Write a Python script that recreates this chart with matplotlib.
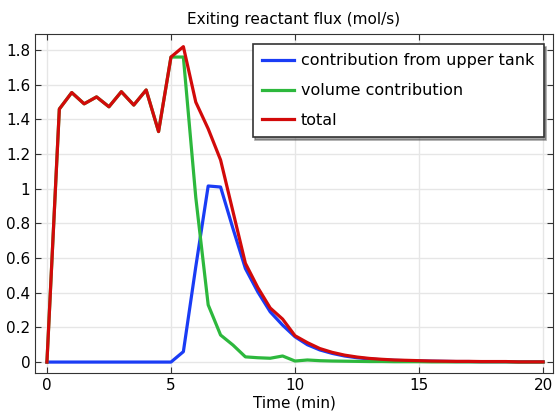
import matplotlib.pyplot as plt

time = [0, 0.5, 1, 1.5, 2, 2.5, 3, 3.5, 4, 4.5, 5, 5.5, 6, 6.5, 7, 7.5, 8, 8.5, 9, 9.5,
        10, 10.5, 11, 11.5, 12, 12.5, 13, 13.5, 14, 14.5, 15, 15.5, 16, 16.5, 17, 17.5,
        18, 18.5, 19, 19.5, 20]

upper = [0, 0, 0, 0, 0, 0, 0, 0, 0, 0, 0, 0.06, 0.55, 1.016, 1.01, 0.77, 0.54, 0.405, 0.29, 0.213,
         0.146, 0.1, 0.07, 0.05, 0.035, 0.025, 0.018, 0.013, 0.01, 0.008, 0.006, 0.005, 0.004,
         0.003, 0.003, 0.002, 0.002, 0.002, 0.001, 0.001, 0.001]

volume = [0, 1.46, 1.555, 1.49, 1.53, 1.473, 1.56, 1.483, 1.57, 1.33, 1.76, 1.76, 0.95, 0.33, 0.156,
          0.098, 0.03, 0.025, 0.022, 0.035, 0.006, 0.012, 0.008, 0.006, 0.005, 0.004, 0.003, 0.003,
          0.002, 0.002, 0.002, 0.001, 0.001, 0.001, 0.001, 0.001, 0.001, 0.001, 0.0, 0.0, 0.0]

total = [u + v for u, v in zip(upper, volume)]

fig = plt.figure(figsize=(5.56, 4.12), dpi=100)
ax = fig.add_axes([0.063, 0.0947, 0.9316, 0.8228])

ax.plot(time, upper, color='#1a3cf5', lw=2.3, label='contribution from upper tank')
ax.plot(time, volume, color='#2db83d', lw=2.3, label='volume contribution')
ax.plot(time, total, color='#d20a0a', lw=2.3, label='total')

ax.set_xlim(-0.48, 20.4)
ax.set_ylim(-0.063, 1.893)
ax.set_xticks([0, 5, 10, 15, 20])
ax.set_yticks([0, 0.2, 0.4, 0.6, 0.8, 1, 1.2, 1.4, 1.6, 1.8])
ax.set_yticklabels(['0', '0.2', '0.4', '0.6', '0.8', '1', '1.2', '1.4', '1.6', '1.8'])
ax.grid(True, color='#e6e6e6', lw=1)
ax.tick_params(direction='in', top=True, right=True, labelsize=11, length=4, color='#333333')
for s in ax.spines.values():
    s.set_color('#333333')

ax.set_title('Exiting reactant flux (mol/s)', fontsize=11, pad=7)
ax.set_xlabel('Time (min)', fontsize=11, labelpad=2)

leg = ax.legend(loc='upper right', fontsize=11.5, fancybox=False, shadow=True,
                edgecolor='#333333', framealpha=1, handlelength=2.0, handletextpad=0.4,
                borderpad=0.6, labelspacing=0.92, borderaxespad=0.3,
                bbox_to_anchor=(0.991, 0.985))
leg.get_frame().set_linewidth(1.2)

fig.savefig('out.png', dpi=100)
